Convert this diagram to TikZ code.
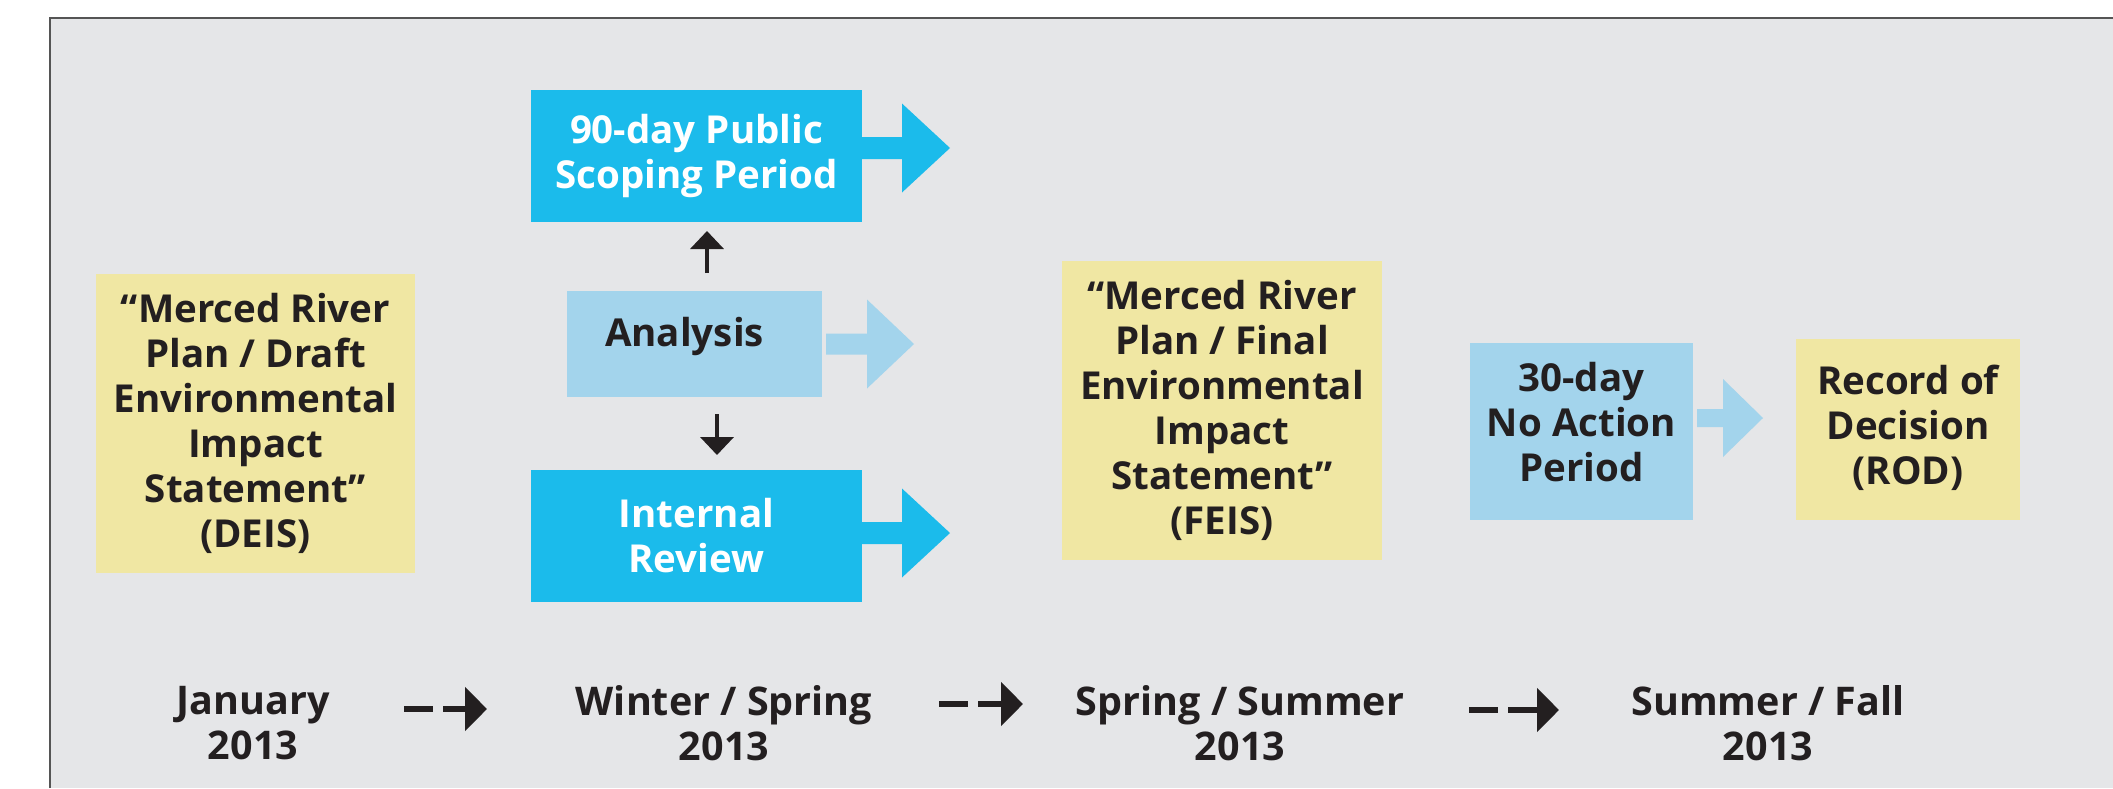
\documentclass[tikz,border=0pt]{standalone}
\usepackage{fontspec}
\setmainfont{Open Sans}
\usepackage{tikz}
\usetikzlibrary{arrows.meta}
\definecolor{panelgray}{HTML}{E5E6E8}
\definecolor{framegray}{HTML}{555555}
\definecolor{stepcyan}{HTML}{1BBBEB}
\definecolor{steplight}{HTML}{A3D4EC}
\definecolor{stepyellow}{HTML}{F0E7A3}
\definecolor{inkdark}{HTML}{231F20}
\newcommand{\boxfont}{\bfseries\fontsize{38.5}{45}\selectfont}
\newcommand{\timefont}{\bfseries\fontsize{39.5}{45}\selectfont}
% lifts the text of a box by half the given amount
\newcommand{\lift}[1]{\rule[-#1]{0pt}{0pt}}
% fat block arrow: start, colour, shaft length, head length, shaft half width, head half width
\newcommand{\fatarrow}[6]{\fill[#2] (#1) ++(0,-#5) -- ++(#3,0) -- ++(0,#5-#6) -- ++(#4,#6) -- ++(-#4,#6) -- ++(0,#5-#6) -- ++(-#3,0) -- cycle;}
\tikzset{stepbox/.style={rectangle,inner sep=0pt,outer sep=0pt,align=center,font=\boxfont},
	yellow box/.style={stepbox,fill=stepyellow,text=inkdark},
	cyan box/.style={stepbox,fill=stepcyan,text=white},
	light box/.style={stepbox,fill=steplight,text=inkdark},
	time label/.style={inner sep=0pt,align=center,font=\timefont,text=inkdark},
	small arrow/.style={line width=4pt,draw=inkdark,-{Triangle[length=18pt,width=33pt]}},
	time arrow/.style={line width=6pt,draw=inkdark,dash pattern=on 29pt off 10pt on 300pt,-{Triangle[length=22pt,width=43pt]}}}

\begin{document}
\begin{tikzpicture}[x=1pt,y=-1pt]
	\useasboundingbox (0,0) rectangle (2113,788);
	\fill[panelgray] (50,18) rectangle (2113,788);
	\draw[framegray,line width=2pt] (50,788) -- (50,18) -- (2113,18);

	\node [yellow box,minimum width=319pt,minimum height=299pt] (deis) at (255.5,423.5) {“Merced River\\Plan / Draft\\Environmental\\Impact\\Statement”\\(DEIS)};
	\node [cyan box,minimum width=331pt,minimum height=132pt] (scoping) at (696.5,156) {90-day Public\\Scoping Period\lift{6pt}};
	\node [light box,minimum width=255pt,minimum height=106pt] (analysis) at (694.5,344) {\raisebox{24pt}{Analysis\kern20pt}};
	\node [cyan box,minimum width=331pt,minimum height=132pt] (review) at (696.5,536) {Internal\\Review};
	\node [yellow box,minimum width=320pt,minimum height=299pt] (feis) at (1222,410.5) {“Merced River\\Plan / Final\\Environmental\\Impact\\Statement”\\(FEIS)};
	\node [light box,minimum width=223pt,minimum height=177pt] (noaction) at (1581.5,431.5) {30-day\\No Action\\Period\lift{20pt}};
	\node [yellow box,minimum width=224pt,minimum height=181pt] (rod) at (1908,429.5) {Record of\\Decision\\(ROD)\lift{10pt}};

	\coordinate (s1) at ([yshift=8pt]scoping.east);
	\coordinate (s2) at ([xshift=4pt]analysis.east);
	\coordinate (s3) at ([yshift=3pt]review.east);
	\coordinate (s4) at ([xshift=4pt,yshift=13.5pt]noaction.east);
	\fatarrow{s1}{stepcyan}{40}{48}{11}{44.5}
	\fatarrow{s2}{steplight}{41}{47}{10.5}{44.5}
	\fatarrow{s3}{stepcyan}{40}{48}{11}{44.5}
	\fatarrow{s4}{steplight}{26}{40}{9}{39}

	\draw [small arrow,shorten <=18pt,shorten >=9pt] ([xshift=12.5pt]analysis.north) -- ([xshift=12.5pt]analysis.north |- scoping.south);
	\draw [small arrow,shorten <=17pt,shorten >=15pt] ([xshift=22.5pt]analysis.south) -- ([xshift=22.5pt]analysis.south |- review.north);

	\foreach \x/\t [count=\i] in {253/{January\\2013},724/{Winter / Spring\\2013},1240/{Spring / Summer\\2013},1768/{Summer / Fall\\2013}}{
		\node [time label] (t\i) at (\x,723) {\t};
	}
	\foreach \a/\b/\s/\e/\dy in {1/2/151/237/14,2/3/215/217/19,3/4/229/209/13}{
		\draw [time arrow,shorten <=\s pt,shorten >=\e pt] ([yshift=\dy pt]t\a.center) -- ([yshift=\dy pt]t\b.center);
	}
\end{tikzpicture}
\end{document}
